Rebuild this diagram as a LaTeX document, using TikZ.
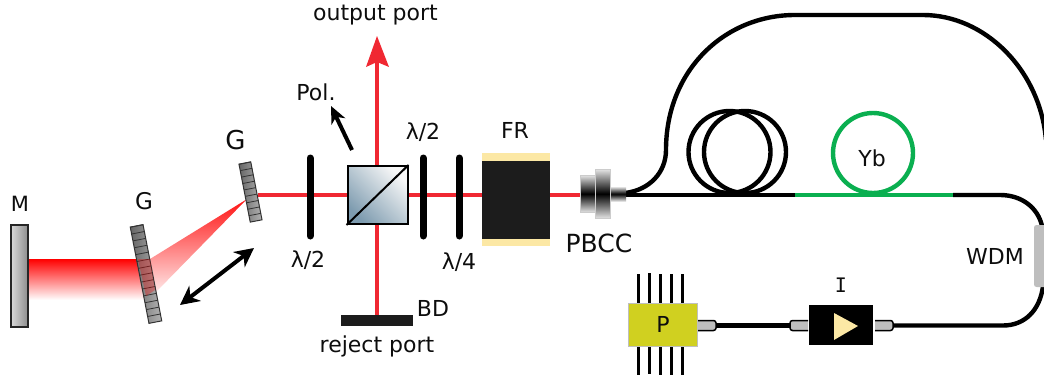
\documentclass[tikz,border=0pt]{standalone}
\usepackage{fontspec}
\setmainfont{DejaVu Sans}
\newfontfamily\monoI{DejaVu Sans Mono}
\usetikzlibrary{arrows.meta}
\definecolor{beamred}{RGB}{240,40,50}
\definecolor{fibgreen}{RGB}{10,175,80}
\definecolor{frblack}{RGB}{28,28,28}
\definecolor{fryellow}{RGB}{252,232,165}
\definecolor{pumpy}{RGB}{208,208,32}
\definecolor{conngrey}{RGB}{190,190,190}
\definecolor{cubeblue}{RGB}{125,155,175}
\tikzset{
  x=1pt,y=-1pt,
  lbl/.style={font=\fontsize{22}{24}\selectfont,inner sep=0pt,text=black!95},
  beam/.style={draw=beamred,line width=4pt},
  plate/.style={draw=black,line width=7pt,line cap=round},
  fibre/.style={draw=black,line width=4.4pt},
  green fibre/.style={draw=fibgreen,line width=4.4pt},
  twohead/.style={draw=black,line width=4pt,{Stealth[length=19pt,width=19pt,inset=6pt]}-{Stealth[length=19pt,width=19pt,inset=6pt]}},
  onehead/.style={draw=black,line width=4pt,-{Stealth[length=17pt,width=15pt,inset=5pt]}},
  conn/.style={fill=conngrey,draw=black,line width=1.5pt,rounded corners=2.5pt},
  pin/.style={draw=black,line width=3pt},
  grating/.style={draw=black!80,line width=1pt,left color=black!60,right color=black!30},
}
\begin{document}
\begin{tikzpicture}
\useasboundingbox (0,0) rectangle (1044,380);
% wide beam and fan
\fill[top color=red,bottom color=white] (28,259) rectangle (148,300);
\begin{scope}
  \clip (247,199) -- (150,259) -- (156,292) -- cycle;
  \shade[shift={(150,259)},rotate=31.7,top color=red,middle color=red!70,bottom color=white] (-30,0) rectangle (130,33);
\end{scope}
% narrow beam
\draw[beam] (258,195) -- (580,195);
\draw[beam] (377,315) -- (377,62);
\fill[beamred] (377,36) -- (389,67) -- (377,62) -- (366,67) -- cycle;
% mirror
\node[name=mirror,minimum width=17pt,minimum height=102pt,inner sep=0pt,draw=black!85,line width=1.5pt,left color=black!15,right color=black!45] at (19.5,276) {};
% gratings
\foreach \nm/\cx/\cy/\len/\wid/\n in {gratA/146/274/98/13/14,gratB/250.5/192/59/12/9}{
  \begin{scope}[shift={(\cx,\cy)},rotate=11,transform shape]
    \node[name=\nm,grating,minimum width=\wid pt,minimum height=\len pt,inner sep=0pt] at (0,0) {};
    \pgfmathsetmacro{\st}{\len/\n}
    \foreach \i in {1,...,\n}{
      \draw[black!80,line width=0.8pt] (-\wid/2,-\len/2+\i*\st-\st) -- (\wid/2,-\len/2+\i*\st-\st);
    }
  \end{scope}
}
% beam seen through the first grating
\fill[red,opacity=.3] (138,259) -- (150,259) -- (155,290) -- (146,296) -- cycle;
% double arrow
\coordinate (da) at (180,305);
\coordinate (db) at (254,248);
\draw[twohead] (da) -- (db);
% plates
\draw[plate] (310,158) -- (310,236);
\draw[plate] (423,158) -- (423,236);
\draw[plate] (459,158) -- (459,236);
% cube
\node[name=cube,minimum width=60pt,minimum height=58pt,inner sep=0pt,draw=black,line width=2pt,
  left color=black!3,right color=cubeblue,shading angle=-45] at (377.5,195) {};
\draw[black,line width=2pt] (cube.south west) -- (cube.north east);
% pol arrow
\coordinate (pa) at (352,150);
\coordinate (pb) at (331,106);
\draw[onehead] (pa) -- (pb);
% Faraday rotator
\node[name=fr,fill=fryellow,minimum width=68pt,minimum height=93pt,inner sep=0pt] at (516,199.5) {};
\fill[frblack] (482,160.5) rectangle (550,239);
% beam dump
\node[name=bd,fill=frblack,minimum width=72pt,minimum height=11pt,inner sep=0pt] at (377,320.5) {};
% fibre
\draw[fibre] (625,195) -- (795,195);
\draw[fibre] (729.5,152) circle[radius=41];
\draw[fibre] (745,152) circle[radius=41];
\draw[green fibre] (873,153) circle[radius=40];
\draw[green fibre] (795,195) -- (953,195);
\draw[fibre] (953,195) -- (1000,195) .. controls (1022,195) and (1038,208) .. (1042,226);
\draw[fibre] (1043,286) .. controls (1040,310) and (1025,325.5) .. (1003,325.5) -- (890,325.5);
\draw[fibre] (714,325.5) -- (792,325.5);
% big loop
\draw[fibre] (625,193) .. controls (650,190) and (666,172) .. (666,150)
  .. controls (666,70) and (725,15) .. (795,15) -- (923,15)
  .. controls (985,15) and (1040,70) .. (1046,140);
% PBCC
\fill[top color=black!12,bottom color=black!12,middle color=black] (611,187) rectangle (626,201);
\fill[top color=black!12,bottom color=black!12,middle color=black,draw=black!20] (580,175.5) rectangle (595,212);
\fill[top color=black!12,bottom color=black!12,middle color=black,draw=black!20] (595,169.5) rectangle (610.5,218);
% P
\foreach \x/\a/\b in {638/274/375,649/273/374,660/274/375,671/274/375,682/274/375}{
  \draw[pin] (\x,\a) -- (\x,\b);
}
\node[name=pump,fill=pumpy,draw=black!25,line width=0.5pt,minimum width=69pt,minimum height=43pt,inner sep=0pt] at (662.5,324.5) {};
% connectors
\path[conn] (698,320.5) -- (716,320.5) -- (716,330.5) -- (698,330.5);
\path[conn] (808,320.5) -- (790,320.5) -- (790,330.5) -- (808,330.5);
\path[conn] (875,320.5) -- (893,320.5) -- (893,330.5) -- (875,330.5);
\node[name=iso,fill=black,minimum width=64pt,minimum height=40pt,inner sep=0pt] at (841,325) {};
\fill[fryellow] (834,313) -- (858,326) -- (834,340) -- cycle;
% WDM
\node[name=wdm,fill=conngrey,rounded corners=2.5pt,minimum width=14pt,minimum height=62pt,inner sep=0pt] at (1041,256) {};
% labels
\node[lbl,name=lo] at (375.5,15) {output port};
\node[lbl,name=lpol] at (316,92) {Pol.};
\node[lbl,name=lha] at (423,132) {λ/2};
\node[lbl,name=lfr] at (515,130) {FR};
\node[lbl,name=lhb] at (308,260) {λ/2};
\node[lbl,name=lqw] at (459,262) {λ/4};
\node[lbl,name=lbd] at (433,308) {BD};
\node[lbl,name=lrp] at (377,346) {reject port};
\node[lbl,name=lg,font=\fontsize{26}{28}\selectfont] at (235.5,140) {G};
\node[lbl,name=lgb,font=\fontsize{23}{25}\selectfont] at (144,201) {G};
\node[lbl,name=lm,font=\fontsize{21}{23}\selectfont] at (20,204) {M};
\node[lbl,name=lpb,font=\fontsize{25}{27}\selectfont] at (599,243) {PBCC};
\node[lbl,name=lyb] at (872,158) {Yb};
\node[lbl,name=lw] at (995,256) {WDM};
\node[lbl,name=lp] at (663,324) {P};
\node[lbl,name=li,font=\monoI\fontsize{20}{22}\selectfont] at (841,285) {I};
\end{tikzpicture}
\end{document}
